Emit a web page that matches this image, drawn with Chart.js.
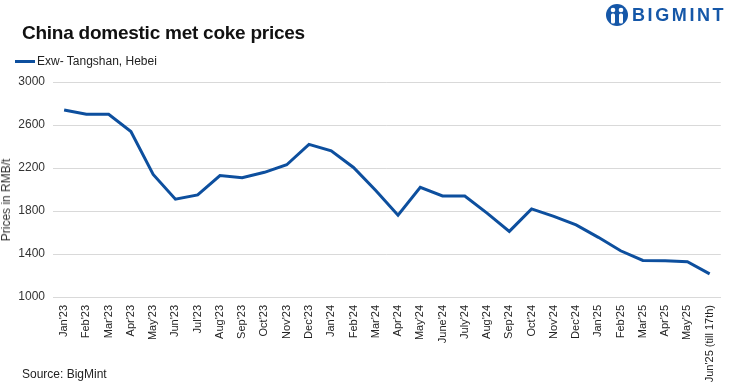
<!DOCTYPE html>
<html>
<head>
<meta charset="utf-8">
<script src="https://cdn.jsdelivr.net/npm/chart.js@4/dist/chart.umd.min.js"></script>
<style>
  html, body { margin: 0; padding: 0; background: #fff; }
  body { width: 731px; height: 392px; position: relative; overflow: hidden; font-family: "Liberation Sans", Arial, sans-serif; }
  #wrap { position: absolute; left: 0; top: 0; width: 731px; height: 392px; }
  #title { position: absolute; left: 22px; top: 22px; font-size: 19px; font-weight: bold; color: #111; letter-spacing: -0.25px; white-space: nowrap; }
  #legend { position: absolute; left: 15px; top: 54px; font-size: 12px; color: #222; white-space: nowrap; display: flex; align-items: center; }
  #legend .sw { width: 20px; height: 3px; background: #0d4f9e; margin-right: 2px; }
  #source { position: absolute; left: 22px; top: 367px; font-size: 12px; color: #222; }
  #ytitle { position: absolute; left: 6px; top: 200px; font-size: 12px; color: #333; white-space: nowrap; transform: translate(-50%, -50%) rotate(-90deg); }
  #logo { position: absolute; left: 605px; top: 3px; display: flex; align-items: center; color: #1557a8; }
  #logo .txt { font-weight: bold; font-size: 18px; letter-spacing: 2.6px; margin-left: 3px; }
</style>
</head>
<body>
<div id="wrap"><canvas id="c" width="731" height="392"></canvas></div>
<div id="title">China domestic met coke prices</div>
<div id="legend"><span class="sw"></span><span id="legendText"></span></div>
<div id="ytitle"></div>
<div id="source">Source: BigMint</div>
<div id="logo">
  <svg width="24" height="24" viewBox="0 0 24 24">
    <circle cx="12" cy="12" r="11" fill="#1557a8"/>
    <circle cx="8" cy="7" r="2.3" fill="#fff"/>
    <circle cx="16" cy="7" r="2.3" fill="#fff"/>
    <rect x="6" y="10.5" width="4" height="10" rx="1.5" fill="#fff"/>
    <rect x="14" y="10.5" width="4" height="10" rx="1.5" fill="#fff"/>
    <rect x="11" y="4" width="2" height="17" fill="#1557a8"/>
  </svg>
  <span class="txt">BIGMINT</span>
</div>
<script>
const categories = ["Jan'23","Feb'23","Mar'23","Apr'23","May'23","Jun'23","Jul'23","Aug'23","Sep'23","Oct'23","Nov'23","Dec'23",
  "Jan'24","Feb'24","Mar'24","Apr'24","May'24","June'24","July'24","Aug'24","Sep'24","Oct'24","Nov'24","Dec'24",
  "Jan'25","Feb'25","Mar'25","Apr'25","May'25","Jun'25 (till 17th)"];
const seriesName = "Exw- Tangshan, Hebei";
const prices = [2740,2700,2700,2540,2140,1910,1950,2130,2110,2160,2230,2420,
  2360,2205,1990,1760,2020,1940,1940,1780,1610,1820,1750,1670,
  1555,1430,1340,1338,1328,1215];
const yTicks = [1000,1400,1800,2200,2600,3000];
const yTitle = "Prices in RMB/t";

document.getElementById('legendText').textContent = seriesName;
document.getElementById('ytitle').textContent = yTitle;

new Chart(document.getElementById('c'), {
  type: 'line',
  data: {
    labels: categories,
    datasets: [{
      label: seriesName,
      data: prices,
      borderColor: '#0d4f9e',
      backgroundColor: '#0d4f9e',
      borderWidth: 3,
      pointRadius: 0,
      tension: 0,
      fill: false
    }]
  },
  options: {
    responsive: false,
    animation: false,
    layout: { padding: { top: 82, right: 9, left: 0, bottom: 0 } },
    plugins: { legend: { display: false }, tooltip: { enabled: false }, title: { display: false } },
    scales: {
      x: {
        offset: true,
        grid: { display: false, drawTicks: false },
        border: { display: true, color: '#d9d9d9', width: 1 },
        ticks: {
          autoSkip: false, maxRotation: 90, minRotation: 90, padding: 8,
          color: '#222', font: { family: "Liberation Sans", size: 11 }
        },
        afterFit: (s) => { s.height = 95; }
      },
      y: {
        min: 1000, max: 3000,
        afterBuildTicks: (s) => { s.ticks = yTicks.map(v => ({ value: v })); },
        grid: { color: '#d9d9d9', drawTicks: false, lineWidth: 1 },
        border: { display: false },
        ticks: { padding: 8, color: '#333', font: { family: "Liberation Sans", size: 12 }, callback: (v) => String(v) },
        title: { display: false },
        afterFit: (s) => { s.width = 53; }
      }
    }
  }
});
</script>
</body>
</html>
